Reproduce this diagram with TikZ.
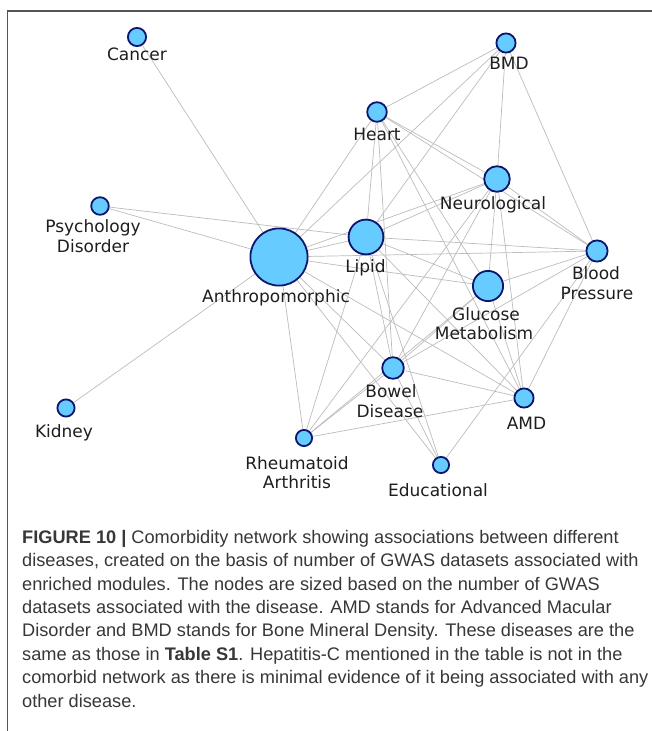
\documentclass[tikz,border=0pt]{standalone}
\usepackage{fontspec}
\setmainfont{Liberation Sans}
\newfontfamily\labfont{DejaVu Sans}
\usetikzlibrary{backgrounds}
\definecolor{nodefill}{RGB}{102,204,255}
\definecolor{nodeline}{RGB}{12,22,110}
\definecolor{edgecol}{RGB}{188,188,188}
\definecolor{captxt}{RGB}{55,55,55}
\definecolor{labtxt}{RGB}{30,30,30}
\definecolor{framecol}{RGB}{85,85,85}
\begin{document}
\begin{tikzpicture}[x=1pt,y=-1pt,
  dis/.style={circle,draw=nodeline,fill=nodefill,line width=1.8pt,inner sep=0pt,minimum size=#1},
  lab/.style={anchor=base,inner sep=0pt,text=labtxt,font=\labfont\fontsize{17}{20}\selectfont},
  conn/.style={draw=edgecol,line width=0.7pt},
  captext/.style={anchor=base west,inner sep=0pt,text=captxt,font=\fontsize{18.2}{23.4}\selectfont},
  framel/.style={draw=framecol,line width=1.3pt}
]
\useasboundingbox (0,0) rectangle (652,731);
% frame
\coordinate (f1) at (652,11);
\coordinate (f2) at (7.5,11);
\coordinate (f3) at (7.5,731);
\draw[framel] (f1) -- (f2) -- (f3);

% nodes
\node[dis=18.2pt] (Ca) at (137,37) {};
\node[dis=17.6pt] (Ps) at (100,206) {};
\node[dis=57.2pt] (An) at (279,257) {};
\node[dis=34.8pt] (Li) at (366,237) {};
\node[dis=19.6pt] (He) at (377,112) {};
\node[dis=19.2pt] (BM) at (506,43) {};
\node[dis=25.6pt] (Ne) at (497,179) {};
\node[dis=21.2pt] (BP) at (597,251) {};
\node[dis=30.2pt] (Gl) at (488,286) {};
\node[dis=21.6pt] (Bo) at (393,368) {};
\node[dis=19.2pt] (AM) at (524,398) {};
\node[dis=16.2pt] (Ed) at (441,465) {};
\node[dis=16.2pt] (RA) at (304,438) {};
\node[dis=17.2pt] (Ki) at (66,408) {};

% labels
\node[lab] (Ca-l) at (137,60) {Cancer};
\node[lab] (Ps-l1) at (93,232) {Psychology};
\node[lab] (Ps-l2) at (93,252) {Disorder};
\node[lab] (An-l) at (276,302) {Anthropomorphic};
\node[lab] (Li-l) at (365.5,272) {Lipid};
\node[lab] (He-l) at (377,140) {Heart};
\node[lab] (BM-l) at (509,69) {BMD};
\node[lab] (Ne-l) at (493,209) {Neurological};
\node[lab] (BP-l1) at (596,279) {Blood};
\node[lab] (BP-l2) at (597,299) {Pressure};
\node[lab] (Gl-l1) at (486,320) {Glucose};
\node[lab] (Gl-l2) at (484,339) {Metabolism};
\node[lab] (Bo-l1) at (391,397) {Bowel};
\node[lab] (Bo-l2) at (390,417) {Disease};
\node[lab] (AM-l) at (526.5,429) {AMD};
\node[lab] (Ed-l) at (438,496) {Educational};
\node[lab] (RA-l1) at (297,469) {Rheumatoid};
\node[lab] (RA-l2) at (297,488) {Arthritis};
\node[lab] (Ki-l) at (64,437) {Kidney};

% edges
\begin{scope}[on background layer]
\draw[conn] (Ca) -- (An);
\draw[conn] (Ki) -- (An);
\draw[conn] (Ps) -- (An);
\draw[conn] (Ps) -- (Li);
\draw[conn] (An) -- (Li);
\draw[conn] (An) -- (He);
\draw[conn] (An) -- (BM);
\draw[conn] (An) -- (Ne);
\draw[conn] (An) -- (BP);
\draw[conn] (An) -- (Gl);
\draw[conn] (An) -- (Bo);
\draw[conn] (An) -- (AM);
\draw[conn] (An) -- (Ed);
\draw[conn] (An) -- (RA);
\draw[conn] (Li) -- (He);
\draw[conn] (Li) -- (BM);
\draw[conn] (Li) -- (Ne);
\draw[conn] (Li) -- (BP);
\draw[conn] (Li) -- (Gl);
\draw[conn] (Li) -- (Bo);
\draw[conn] (Li) -- (AM);
\draw[conn] (Li) -- (Ed);
\draw[conn] (Li) -- (RA);
\draw[conn] (He) -- (BM);
\draw[conn] (He) -- (Ne);
\draw[conn] (He) -- (BP);
\draw[conn] (He) -- (Bo);
\draw[conn] (He) -- (Gl);
\draw[conn] (He) -- (AM);
\draw[conn] (BM) -- (Ne);
\draw[conn] (BM) -- (BP);
\draw[conn] (Ne) -- (BP);
\draw[conn] (Ne) -- (Gl);
\draw[conn] (Ne) -- (Bo);
\draw[conn] (Ne) -- (RA);
\draw[conn] (Ne) -- (AM);
\draw[conn] (BP) -- (Gl);
\draw[conn] (BP) -- (AM);
\draw[conn] (BP) -- (Ed);
\draw[conn] (BP) -- (Bo);
\draw[conn] (Gl) -- (AM);
\draw[conn] (Gl) -- (Bo);
\draw[conn] (Gl) -- (RA);
\draw[conn] (Bo) -- (AM);
\draw[conn] (Bo) -- (RA);
\draw[conn] (Bo) -- (Ed);
\draw[conn] (AM) -- (RA);
\end{scope}

% caption
\node[captext] (cap1) at (22,543.3) {\textbf{FIGURE 10 |} Comorbidity network showing associations between different};
\node[captext] (cap2) at (22,566.7) {diseases, created on the basis of number of GWAS datasets associated with};
\node[captext] (cap3) at (22,590.1) {enriched modules. The nodes are sized based on the number of GWAS};
\node[captext] (cap4) at (22,613.5) {datasets associated with the disease. AMD stands for Advanced Macular};
\node[captext] (cap5) at (22,636.9) {Disorder and BMD stands for Bone Mineral Density. These diseases are the};
\node[captext] (cap6) at (22,660.3) {same as those in \textbf{Table S1}. Hepatitis-C mentioned in the table is not in the};
\node[captext] (cap7) at (22,683.7) {comorbid network as there is minimal evidence of it being associated with any};
\node[captext] (cap8) at (22,707.1) {other disease.};
\end{tikzpicture}
\end{document}
